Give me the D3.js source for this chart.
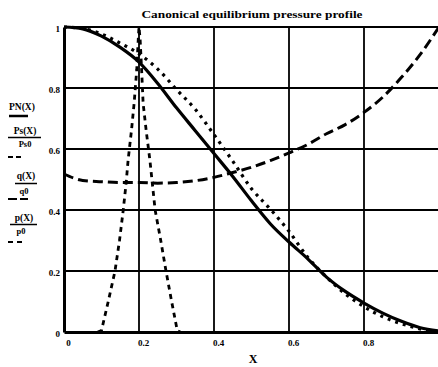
<!DOCTYPE html>
<html>
<head>
<meta charset="utf-8">
<script src="https://cdn.jsdelivr.net/npm/d3@7/dist/d3.min.js"></script>
<style>
  html, body { margin: 0; padding: 0; background: #fff; }
  svg { display: block; }
  text { font-family: "Liberation Serif", "DejaVu Serif", serif; font-weight: bold; fill: #000; }
</style>
</head>
<body>
<svg id="chart" width="438" height="367"></svg>
<script>
// ---- data ----
const xGrid = [0, 0.05, 0.1, 0.15, 0.2, 0.25, 0.3, 0.35, 0.4, 0.45, 0.5, 0.55, 0.6, 0.65, 0.7, 0.75, 0.8, 0.85, 0.9, 0.95, 1.0];
const PN  = [1.0, 0.994, 0.97, 0.933, 0.885, 0.815, 0.735, 0.66, 0.585, 0.51, 0.43, 0.355, 0.295, 0.24, 0.18, 0.133, 0.095, 0.062, 0.035, 0.014, 0.003];
const Ps  = [1.0, 0.995, 0.977, 0.947, 0.912, 0.862, 0.795, 0.73, 0.647, 0.56, 0.47, 0.403, 0.33, 0.245, 0.18, 0.125, 0.083, 0.05, 0.027, 0.01, 0.0];
const qX  = [0, 0.025, 0.05, 0.1, 0.15, 0.2, 0.25, 0.3, 0.35, 0.4, 0.45, 0.5, 0.55, 0.6, 0.65, 0.7, 0.75, 0.8, 0.85, 0.9, 0.95, 1.0];
const qV  = [0.518, 0.505, 0.497, 0.493, 0.49, 0.49, 0.488, 0.49, 0.496, 0.507, 0.523, 0.54, 0.562, 0.587, 0.615, 0.65, 0.68, 0.72, 0.77, 0.835, 0.91, 1.0];
const pX  = [0.09, 0.1, 0.118, 0.136, 0.148, 0.158, 0.165, 0.171, 0.18, 0.187, 0.194, 0.198, 0.2, 0.203, 0.207, 0.211, 0.219, 0.229, 0.243, 0.258, 0.272, 0.287, 0.302, 0.31];
const pV  = [0, 0.005, 0.1, 0.2, 0.3, 0.4, 0.48, 0.564, 0.662, 0.75, 0.86, 0.96, 1.0, 0.96, 0.86, 0.75, 0.662, 0.564, 0.4, 0.3, 0.2, 0.1, 0.005, 0];
const xTicks = [0, 0.2, 0.4, 0.6, 0.8];
const xTickLabels = ["0", "0.2", "0.4", "0.6", "0.8"];
const yTicks = [0, 0.2, 0.4, 0.6, 0.8, 1];
const yTickLabels = ["0", "0.2", "0.4", "0.6", "0.8", "1"];
const titleText = "Canonical equilibrium pressure profile";
const xLabel = "X";

// ---- layout ----
const svg = d3.select("#chart");
const x = d3.scaleLinear().domain([0, 1]).range([64, 439]);
const y = d3.scaleLinear().domain([0, 1]).range([332, 27]);

// grid
const g = svg.append("g");
g.selectAll("line.vg").data(xTicks.filter(d => d > 0)).enter().append("line")
  .attr("x1", d => x(d)).attr("x2", d => x(d)).attr("y1", y(0)).attr("y2", y(1))
  .attr("stroke", "#000").attr("stroke-width", 1.8);
g.selectAll("line.hg").data(yTicks.filter(d => d > 0)).enter().append("line")
  .attr("x1", x(0)).attr("x2", x(1)).attr("y1", d => y(d)).attr("y2", d => y(d))
  .attr("stroke", "#000").attr("stroke-width", d => d === 1 ? 2.2 : 1.8);

// axes
const xAxis = d3.axisBottom(x).tickValues(xTicks).tickSize(0).tickPadding(8)
  .tickFormat((d, i) => xTickLabels[i]);
const gx = svg.append("g").attr("transform", `translate(0,${y(0)})`).call(xAxis);
gx.select(".domain").attr("stroke", "#000").attr("stroke-width", 3);
gx.selectAll("text").attr("font-family", "Liberation Serif").attr("font-weight", "bold")
  .attr("font-size", 9).attr("dx", 4);

const yAxis = d3.axisLeft(y).tickValues(yTicks).tickSize(0).tickPadding(4)
  .tickFormat((d, i) => yTickLabels[i]);
const gy = svg.append("g").attr("transform", `translate(${x(0)},0)`).call(yAxis);
gy.select(".domain").attr("stroke", "#000").attr("stroke-width", 3);
gy.selectAll("text").attr("font-family", "Liberation Serif").attr("font-weight", "bold")
  .attr("font-size", 9).attr("dy", "0.55em");

// curves
const line = d3.line().x(d => x(d[0])).y(d => y(d[1])).curve(d3.curveMonotoneX);
const lineCR = d3.line().x(d => x(d[0])).y(d => y(d[1])).curve(d3.curveLinear);

svg.append("path").datum(xGrid.map((v, i) => [v, PN[i]]))
  .attr("d", line).attr("fill", "none").attr("stroke", "#000").attr("stroke-width", 3.2);

svg.append("path").datum(xGrid.map((v, i) => [v, Ps[i]]))
  .attr("d", line).attr("fill", "none").attr("stroke", "#000").attr("stroke-width", 3.2)
  .attr("stroke-dasharray", "3,5");

svg.append("path").datum(qX.map((v, i) => [v, qV[i]]))
  .attr("d", line).attr("fill", "none").attr("stroke", "#000").attr("stroke-width", 3)
  .attr("stroke-dasharray", "10,5");

svg.append("path").datum(pX.map((v, i) => [v, pV[i]]))
  .attr("d", lineCR).attr("fill", "none").attr("stroke", "#000").attr("stroke-width", 2.8)
  .attr("stroke-dasharray", "5,4.5");

// title & axis label
svg.append("text").attr("x", 252).attr("y", 18).attr("text-anchor", "middle")
  .attr("font-size", 11).attr("textLength", 221).attr("lengthAdjust", "spacingAndGlyphs")
  .text(titleText);
svg.append("text").attr("x", 253).attr("y", 363).attr("text-anchor", "middle")
  .attr("font-size", 12).text(xLabel);

// left-side legend labels
const leg = svg.append("g");
function txt(s, xx, yy, anchor = "start", size = 9.5) {
  leg.append("text").attr("x", xx).attr("y", yy).attr("text-anchor", anchor)
    .attr("font-size", size).text(s);
}
function seg(x1, x2, yy, w = 2, dash = null) {
  const l = leg.append("line").attr("x1", x1).attr("x2", x2).attr("y1", yy).attr("y2", yy)
    .attr("stroke", "#000").attr("stroke-width", w);
  if (dash) l.attr("stroke-dasharray", dash);
}
txt("PN(X)", 9, 110);
seg(9, 28, 116, 2.5);

txt("Ps(X)", 25, 134, "middle");
seg(8, 41, 137.5, 1.5);
txt("Ps0", 25, 147, "middle", 8.5);
seg(8, 22, 157, 2.2, "5,3");

txt("q(X)", 26, 179, "middle");
seg(15, 37, 183.5, 1.5);
txt("q0", 24, 194, "middle", 8.5);
seg(8, 28, 199, 2.2, "9,3");

txt("p(X)", 24, 221, "middle");
seg(10, 37, 224.5, 1.5);
txt("p0", 21, 234, "middle", 8.5);
seg(8, 22, 242, 2.2, "5,4");
</script>
</body>
</html>
